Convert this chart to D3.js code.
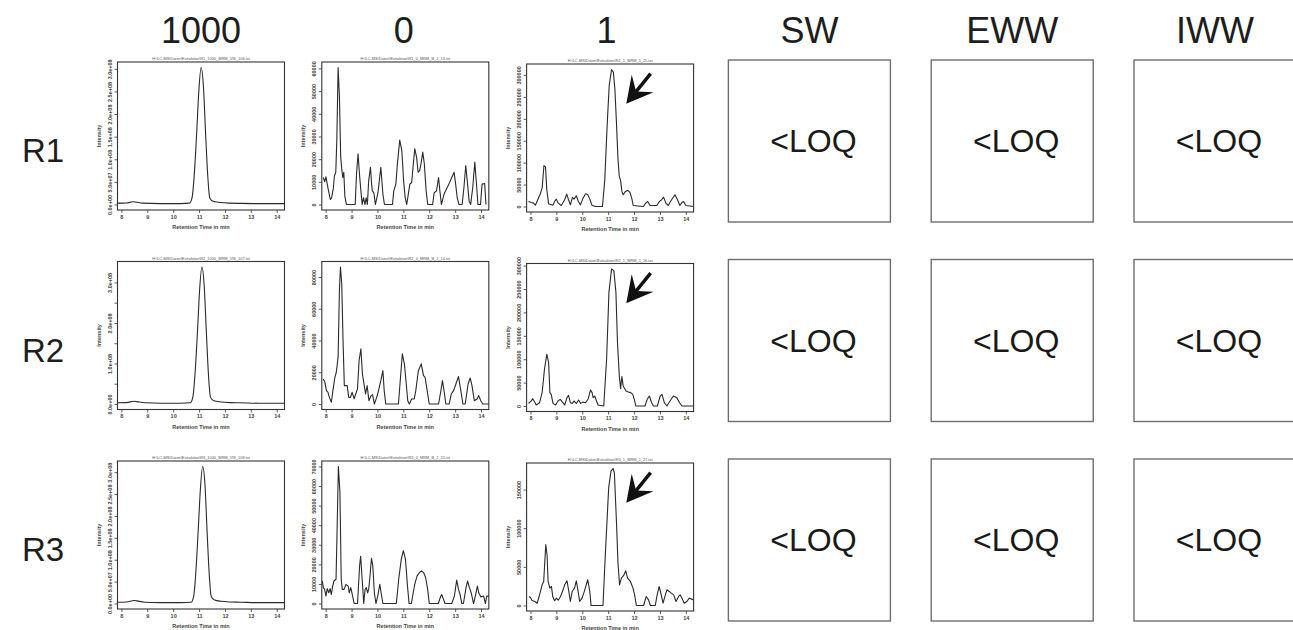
<!DOCTYPE html>
<html><head><meta charset="utf-8">
<script src="https://cdn.jsdelivr.net/npm/d3@7"></script>
<style>body{margin:0;background:#fff}</style>
</head><body><svg id="chart"></svg>
<script>
// ---------------- DATA ----------------
const columns = ["1000", "0", "1", "SW", "EWW", "IWW"];
const chromColumns = ["1000", "0", "1"];
const loqColumns = ["SW", "EWW", "IWW"];
const rows = ["R1", "R2", "R3"];
const loqText = "<LOQ";
const timeTicks = [8, 9, 10, 11, 12, 13, 14];
const timeDomain = [7.85, 14.3];
const xAxisTitle = "Retention Time in min";
const yAxisTitle = "Intensity";

// column "1000"
const r1_1000 = [[7.85,0.03e8],[8.2,0.035e8],[8.45,0.06e8],[8.55,0.055e8],[8.8,0.03e8],[9.5,0.02e8],[10.3,0.02e8],[10.63,0.03e8],[10.73,0.15e8],[10.82,0.7e8],[10.91,1.6e8],[10.99,2.5e8],[11.08,3.03e8],[11.17,2.6e8],[11.25,1.6e8],[11.34,0.6e8],[11.41,0.15e8],[11.54,0.07e8],[11.8,0.045e8],[12.18,0.03e8],[12.6,0.025e8],[13.3,0.02e8],[14.3,0.02e8]];
const r2_1000 = [[7.85,0.03e8],[8.2,0.035e8],[8.5,0.07e8],[8.6,0.06e8],[8.9,0.03e8],[9.5,0.02e8],[10.3,0.02e8],[10.66,0.03e8],[10.76,0.17e8],[10.85,0.8e8],[10.94,1.8e8],[11.02,2.8e8],[11.11,3.38e8],[11.2,2.9e8],[11.28,1.8e8],[11.37,0.65e8],[11.44,0.17e8],[11.57,0.08e8],[11.85,0.05e8],[12.2,0.035e8],[12.6,0.03e8],[13.3,0.02e8],[14.3,0.02e8]];
const r3_1000 = [[7.85,0.03e8],[8.2,0.035e8],[8.5,0.07e8],[8.6,0.06e8],[8.9,0.03e8],[9.5,0.02e8],[10.3,0.02e8],[10.69,0.03e8],[10.79,0.16e8],[10.88,0.75e8],[10.97,1.7e8],[11.05,2.6e8],[11.14,3.13e8],[11.23,2.7e8],[11.31,1.65e8],[11.4,0.6e8],[11.47,0.16e8],[11.6,0.08e8],[11.85,0.05e8],[12.2,0.035e8],[12.6,0.03e8],[13.3,0.02e8],[14.3,0.02e8]];

// column "0"
const r1_0 = [[7.91,11900],[7.96,10100],[8.01,12200],[8.06,9000],[8.11,6000],[8.18,2200],[8.23,3000],[8.29,6700],[8.34,12700],[8.39,14200],[8.43,28400],[8.48,60400],[8.53,47800],[8.58,20900],[8.62,15700],[8.66,11900],[8.70,14200],[8.74,3700],[8.80,0],[9.14,0],[9.19,13400],[9.25,22400],[9.31,12700],[9.36,6000],[9.41,0],[9.46,3000],[9.52,0],[9.56,3000],[9.61,0],[9.66,10400],[9.73,16400],[9.77,9700],[9.80,6000],[9.86,5200],[9.92,0],[10.02,5200],[10.13,16400],[10.21,4500],[10.27,0],[10.58,0],[10.63,6000],[10.71,9000],[10.77,17900],[10.86,28400],[10.94,23900],[11.01,10400],[11.07,3000],[11.13,0],[11.19,4500],[11.25,9000],[11.32,9700],[11.38,17200],[11.44,24600],[11.51,20900],[11.57,14200],[11.63,14900],[11.68,17900],[11.75,23100],[11.81,17900],[11.88,6000],[11.94,0],[12.13,0],[12.19,5200],[12.28,6000],[12.36,11900],[12.41,6000],[12.47,0],[12.57,4500],[12.66,6700],[12.76,9000],[12.87,11900],[12.96,14200],[13.02,9000],[13.08,3000],[13.15,0],[13.27,0],[13.34,7500],[13.41,17200],[13.48,9000],[13.54,1500],[13.60,0],[13.68,7500],[13.76,18700],[13.82,9700],[13.88,0],[13.98,0],[14.04,9000],[14.14,9300],[14.19,0]];
const r2_0 = [[7.90,15800],[7.96,14300],[8.03,8400],[8.09,7400],[8.14,4200],[8.22,1100],[8.28,8400],[8.35,16400],[8.41,20000],[8.48,29500],[8.53,71600],[8.57,86300],[8.62,75800],[8.67,40000],[8.72,11600],[8.83,11600],[8.89,4200],[8.96,4200],[9.02,7400],[9.10,3200],[9.16,6300],[9.23,9500],[9.29,27400],[9.36,34700],[9.42,18900],[9.49,11600],[9.54,6300],[9.60,11600],[9.67,2100],[9.75,5300],[9.81,5900],[9.88,0],[9.97,4200],[10.04,8400],[10.13,14700],[10.21,21000],[10.26,8400],[10.32,0],[10.81,0],[10.87,12600],[10.96,31600],[11.04,25300],[11.10,14700],[11.17,2100],[11.23,0],[11.32,3200],[11.42,3200],[11.48,8400],[11.58,21000],[11.69,25300],[11.78,17900],[11.84,16800],[11.92,8400],[12.00,0],[12.36,0],[12.45,8400],[12.51,14700],[12.59,6300],[12.64,0],[12.77,0],[12.85,6300],[12.94,8400],[13.03,12600],[13.13,17300],[13.22,8400],[13.30,0],[13.39,0],[13.50,12600],[13.58,16400],[13.65,11600],[13.74,2100],[13.85,3200],[13.91,5300],[13.99,2100],[14.07,0],[14.30,0]];
const r3_0 = [[7.87,11500],[7.91,8100],[7.96,7200],[8.01,3800],[8.06,7600],[8.12,5500],[8.17,7600],[8.22,4600],[8.27,8900],[8.32,11500],[8.40,12400],[8.45,43400],[8.49,70000],[8.55,57100],[8.60,12400],[8.64,7200],[8.71,7200],[8.78,9800],[8.87,8900],[8.91,5500],[8.97,8100],[9.04,3800],[9.10,0],[9.23,0],[9.31,19300],[9.35,24100],[9.40,14100],[9.47,0],[9.52,7200],[9.57,8100],[9.62,5500],[9.66,7200],[9.70,12400],[9.77,23100],[9.82,19300],[9.88,5500],[9.94,0],[10.01,3800],[10.09,9800],[10.14,5500],[10.21,0],[10.73,0],[10.82,12400],[10.92,22700],[11.00,27000],[11.08,22700],[11.16,8900],[11.22,0],[11.31,0],[11.38,5500],[11.44,9800],[11.53,14100],[11.62,15800],[11.70,16700],[11.78,15800],[11.86,13300],[11.94,7200],[12.00,0],[12.35,0],[12.42,2900],[12.48,4600],[12.55,2100],[12.61,0],[12.87,0],[12.97,3800],[13.06,12000],[13.13,7200],[13.19,4600],[13.26,0],[13.32,0],[13.42,8100],[13.48,11500],[13.55,8100],[13.62,5500],[13.71,0],[13.78,3800],[13.86,8900],[13.91,5500],[13.99,3400],[14.10,3800],[14.17,0],[14.22,3800],[14.30,3800]];

// column "1"
const r1_1 = [[7.92,11500],[8.03,9200],[8.12,7700],[8.19,3100],[8.28,15300],[8.38,29100],[8.45,42100],[8.52,93400],[8.58,90400],[8.63,38300],[8.70,6100],[8.87,3100],[8.93,11500],[9.00,16800],[9.07,7700],[9.19,2300],[9.32,15300],[9.40,28300],[9.47,15300],[9.54,3800],[9.62,20700],[9.68,16800],[9.77,24500],[9.85,11500],[9.93,3800],[10.03,19100],[10.13,29100],[10.21,27600],[10.29,16800],[10.38,2300],[10.52,0],[10.78,0],[10.87,61300],[10.96,183800],[11.04,275700],[11.13,312400],[11.20,306300],[11.26,268000],[11.32,191400],[11.38,107200],[11.43,68900],[11.48,59700],[11.53,34500],[11.58,26800],[11.67,34500],[11.76,36800],[11.84,32200],[11.91,19100],[11.97,2300],[12.36,0],[12.45,7700],[12.53,11500],[12.62,2300],[12.88,2300],[12.98,11500],[13.06,15300],[13.14,21400],[13.23,7700],[13.32,2300],[13.45,15300],[13.58,26800],[13.68,15300],[13.77,2300],[13.85,9200],[13.91,11500],[14.00,2300],[14.30,0]];
const r2_1 = [[7.92,5700],[8.03,10700],[8.09,15700],[8.16,8600],[8.22,2100],[8.35,7100],[8.45,28600],[8.54,78600],[8.63,110700],[8.70,92900],[8.75,28600],[8.80,25000],[8.87,5700],[8.97,2100],[9.06,10700],[9.15,14300],[9.25,7100],[9.32,2100],[9.41,17900],[9.47,22900],[9.54,7100],[9.62,5700],[9.68,10700],[9.77,5700],[9.86,12900],[9.94,5700],[10.03,8600],[10.13,7100],[10.23,15700],[10.32,34300],[10.38,28600],[10.42,17900],[10.48,21400],[10.55,10700],[10.61,2100],[10.83,0],[10.94,100000],[11.03,242900],[11.13,292900],[11.22,289300],[11.30,242900],[11.36,135700],[11.43,64300],[11.48,37100],[11.53,62900],[11.58,42900],[11.69,32100],[11.78,30000],[11.87,28600],[11.95,25000],[12.01,14300],[12.07,0],[12.42,0],[12.51,14300],[12.59,21400],[12.68,7100],[12.75,0],[12.90,0],[13.01,21400],[13.08,25000],[13.17,7100],[13.27,0],[13.39,10700],[13.52,21400],[13.65,17900],[13.76,7100],[13.85,0],[14.30,0]];
const r3_1 = [[7.94,11700],[8.00,10400],[8.06,6500],[8.17,5200],[8.26,3000],[8.35,13800],[8.45,26800],[8.51,31100],[8.59,78700],[8.64,65700],[8.68,31100],[8.75,22500],[8.81,24600],[8.86,11700],[8.93,6100],[9.00,9500],[9.07,6900],[9.16,11700],[9.26,20300],[9.32,26800],[9.41,32000],[9.48,18200],[9.54,5200],[9.61,18200],[9.70,22500],[9.77,32000],[9.84,18200],[9.90,5200],[9.99,9500],[10.08,18200],[10.21,33300],[10.29,18200],[10.34,0],[10.80,0],[10.89,65700],[11.02,152100],[11.11,173700],[11.19,177200],[11.24,171600],[11.32,108900],[11.38,54900],[11.44,26800],[11.51,35400],[11.60,38900],[11.68,44900],[11.75,35400],[11.86,31100],[11.96,22500],[12.02,13800],[12.09,0],[12.37,0],[12.47,11700],[12.56,7300],[12.63,0],[12.82,0],[12.88,11700],[12.97,24600],[13.05,13800],[13.12,3000],[13.21,13800],[13.27,20300],[13.36,18200],[13.44,16000],[13.53,13800],[13.62,5200],[13.72,11700],[13.78,13800],[13.85,9500],[13.94,3000],[14.04,5200],[14.13,9500],[14.30,7300]];

// y-axis ticks and labels
const ticks_1000 = [0, 5e7, 1e8, 1.5e8, 2e8, 2.5e8, 3e8];
const labels_1000_full = ["0.0e+00","5.0e+07","1.0e+08","1.5e+08","2.0e+08","2.5e+08","3.0e+08"];
const labels_1000_sparse = ["0.0e+00","","1.0e+08","","2.0e+08","","3.0e+08"];
const ticks_0_R1 = [0,10000,20000,30000,40000,50000,60000];
const ticks_0_R2 = [0,20000,40000,60000,80000];
const ticks_0_R3 = [0,10000,20000,30000,40000,50000,60000,70000];
const ticks_1_R1 = [0,50000,100000,150000,200000,250000,300000];
const ticks_1_R2 = [0,50000,100000,150000,200000,250000,300000];
const ticks_1_R3 = [0,50000,100000,150000];

// arrow annotation on column "1": [time], [fraction of peak height]
const arrowTime = [12.64, 11.7];
const arrowLevel = [0.97, 0.75];

// tiny file-name titles above each chromatogram
const panelTitles = [
  "H:\\LC-MS\\Daten\\Extraktion\\R1_1000_MRM_VIS_106.txt", "H:\\LC-MS\\Daten\\Extraktion\\R1_0_MRM_B_2_13.txt", "H:\\LC-MS\\Daten\\Extraktion\\R1_1_MRM_1_25.txt",
  "H:\\LC-MS\\Daten\\Extraktion\\R2_1000_MRM_VIS_107.txt", "H:\\LC-MS\\Daten\\Extraktion\\R2_0_MRM_B_2_14.txt", "H:\\LC-MS\\Daten\\Extraktion\\R2_1_MRM_1_26.txt",
  "H:\\LC-MS\\Daten\\Extraktion\\R3_1000_MRM_VIS_108.txt", "H:\\LC-MS\\Daten\\Extraktion\\R3_0_MRM_B_2_15.txt", "H:\\LC-MS\\Daten\\Extraktion\\R3_1_MRM_1_27.txt"
];

// ---------------- TABLES BUILT FROM DATA ----------------
const traceTable = {
  R1: {"1000": r1_1000, "0": r1_0, "1": r1_1},
  R2: {"1000": r2_1000, "0": r2_0, "1": r2_1},
  R3: {"1000": r3_1000, "0": r3_0, "1": r3_1}
};
const tickTable = {
  R1: {"1000": [ticks_1000, labels_1000_full], "0": [ticks_0_R1, ticks_0_R1.map(String)], "1": [ticks_1_R1, ticks_1_R1.map(String)]},
  R2: {"1000": [ticks_1000, labels_1000_sparse], "0": [ticks_0_R2, ticks_0_R2.map(String)], "1": [ticks_1_R2, ticks_1_R2.map(String)]},
  R3: {"1000": [ticks_1000, labels_1000_full], "0": [ticks_0_R3, ticks_0_R3.map(String)], "1": [ticks_1_R3, ticks_1_R3.map(String)]}
};

// ---------------- LAYOUT ----------------
const W = 1293, H = 630;
const FONT = "'Liberation Sans', Arial, Helvetica, sans-serif";
const svg = d3.select("#chart").attr("width", W).attr("height", H);

const colScale = d3.scalePoint().domain(columns).range([201, 1215]);
const rowScale = d3.scalePoint().domain(rows).range([62, 461]);
const colNudge = {"1000": 0, "0": 1.5, "1": 3.5};
const PW = 167, PH = 148, BOX = 162;

// column headers
svg.selectAll("text.hdr").data(columns).join("text")
  .attr("class", "hdr")
  .attr("x", d => colScale(d)).attr("y", 43)
  .attr("text-anchor", "middle")
  .style("font-family", FONT).style("font-size", "36px")
  .attr("fill", "#1e1e1e")
  .text(d => d);

// row labels
svg.selectAll("text.rowlab").data(rows).join("text")
  .attr("class", "rowlab")
  .attr("x", 22).attr("y", d => rowScale(d) + 100)
  .style("font-family", FONT).style("font-size", "33px")
  .attr("fill", "#1e1e1e")
  .text(d => d);

// chromatogram panels
rows.forEach((r, ri) => {
  chromColumns.forEach((c, ci) => {
    const data = traceTable[r][c];
    const [tv, tl] = tickTable[r][c];
    const left = colScale(c) - PW / 2 + colNudge[c];
    const top = rowScale(r) + (c === "1" ? 2 : 0);
    const g = svg.append("g").attr("transform", `translate(${left},${top})`);

    const ymax = d3.max(data, d => d[1]);
    const x = d3.scaleLinear().domain(timeDomain).range([0, PW]);
    const y = d3.scaleLinear().domain([-0.04 * ymax, 1.04 * ymax]).range([PH, 0]);

    // y axis
    const ya = g.append("g").call(
      d3.axisLeft(y).tickValues(tv).tickSize(3).tickFormat((d, i) => tl[i])
    );
    ya.select(".domain").remove();
    ya.selectAll("line").attr("stroke", "#333").attr("stroke-width", 0.8);
    ya.selectAll("text")
      .attr("transform", "rotate(-90)")
      .attr("x", 0).attr("y", -6).attr("dy", 0)
      .attr("text-anchor", "middle")
      .style("font-family", FONT).style("font-size", "5.5px").style("font-weight", "bold")
      .attr("fill", "#444");

    // x axis
    const xa = g.append("g").attr("transform", `translate(0,${PH})`).call(
      d3.axisBottom(x).tickValues(timeTicks).tickSize(3).tickFormat(d3.format("d"))
    );
    xa.select(".domain").remove();
    xa.selectAll("line").attr("stroke", "#333").attr("stroke-width", 0.8);
    xa.selectAll("text")
      .attr("y", 5).attr("dy", "0.71em")
      .style("font-family", FONT).style("font-size", "5.5px").style("font-weight", "bold")
      .attr("fill", "#444");

    // axis titles
    g.append("text").attr("transform", `translate(-17,${PH / 2}) rotate(-90)`)
      .attr("text-anchor", "middle")
      .style("font-family", FONT).style("font-size", "5.5px").style("font-weight", "bold")
      .attr("fill", "#444").text(yAxisTitle);
    g.append("text").attr("x", PW / 2).attr("y", PH + 19)
      .attr("text-anchor", "middle")
      .style("font-family", FONT).style("font-size", "5.5px").style("font-weight", "bold")
      .attr("fill", "#444").text(xAxisTitle);
    g.append("text").attr("x", PW / 2).attr("y", -2)
      .attr("text-anchor", "middle")
      .style("font-family", FONT).style("font-size", "3.9px")
      .attr("fill", "#555").text(panelTitles[ri * 3 + ci]);

    // trace
    const line = d3.line()
      .x(d => x(d[0])).y(d => y(d[1]))
      .curve(c === "1000" ? d3.curveMonotoneX : d3.curveLinear);
    g.append("path").datum(data)
      .attr("d", line)
      .attr("fill", "none").attr("stroke", "#2a2a2a").attr("stroke-width", 1.1)
      .attr("stroke-linejoin", "round");

    // box
    g.append("rect").attr("x", 0).attr("y", 0).attr("width", PW).attr("height", PH)
      .attr("fill", "none").attr("stroke", "#333").attr("stroke-width", 1.1);

    // arrow
    if (c === "1") {
      const tx = x(arrowTime[0]), ty = y(arrowLevel[0] * ymax);
      const hx = x(arrowTime[1]), hy = y(arrowLevel[1] * ymax);
      const dx = hx - tx, dy = hy - ty, len = Math.hypot(dx, dy);
      const ux = dx / len, uy = dy / len, nx = -uy, ny = ux;
      const L = 26, Wd = 14;
      const bx = hx - ux * L, by = hy - uy * L;
      const notchX = hx - ux * L * 0.6, notchY = hy - uy * L * 0.6;
      g.append("line").attr("x1", tx).attr("y1", ty).attr("x2", notchX).attr("y2", notchY)
        .attr("stroke", "#111").attr("stroke-width", 3.4);
      g.append("path")
        .attr("d", `M${hx},${hy}L${bx + nx * Wd},${by + ny * Wd}L${notchX},${notchY}L${bx - nx * Wd},${by - ny * Wd}Z`)
        .attr("fill", "#111");
    }
  });
});

// <LOQ boxes
rows.forEach(r => {
  loqColumns.forEach(c => {
    const left = colScale(c) - BOX / 2;
    const top = rowScale(r) - 2;
    const g = svg.append("g").attr("transform", `translate(${left},${top})`);
    g.append("rect").attr("width", BOX).attr("height", BOX)
      .attr("fill", "none").attr("stroke", "#6e6e6e").attr("stroke-width", 1.4);
    g.append("text").attr("x", BOX / 2 + 4).attr("y", BOX / 2 + 11)
      .attr("text-anchor", "middle")
      .style("font-family", FONT).style("font-size", "32px")
      .attr("fill", "#1a1a1a").text(loqText);
  });
});
</script>
</body></html>
